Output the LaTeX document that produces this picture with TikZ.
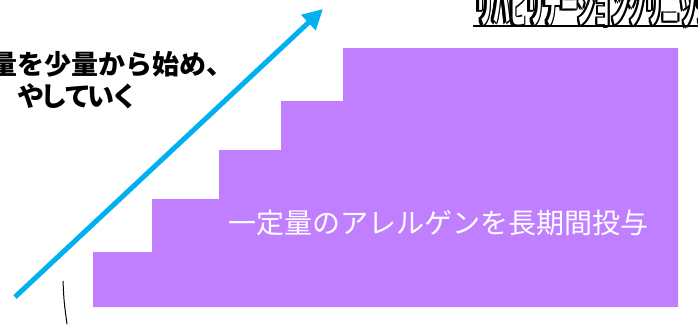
\documentclass[tikz,border=0pt]{standalone}
\usepackage{fontspec}
\newfontfamily\jp{Noto Sans CJK JP}
\usetikzlibrary{arrows.meta,positioning}
\definecolor{stairpurple}{RGB}{191,127,255}
\definecolor{arrowcyan}{RGB}{0,176,240}
\newcommand{\tk}{\kern-3.5pt}
\tikzstyle{note} = [font=\jp\bfseries\fontsize{27}{27}\selectfont, inner sep=0pt, anchor=west]
\tikzstyle{inside} = [font=\jp\fontsize{28}{28}\selectfont, text=white, inner sep=0pt]
\tikzstyle{brand} = [font=\jp\bfseries\fontsize{46}{46}\selectfont, inner sep=0pt, anchor=base west, xscale=0.37]
\tikzstyle{line} = [draw=arrowcyan, line width=5pt, -{Triangle[length=20pt,width=20pt]}]

\begin{document}
\begin{tikzpicture}[x=1pt, y=-1pt]
		\useasboundingbox (0,0) rectangle (698,324);
		\clip (0,0) rectangle (698,324);
		% staircase
		\fill[stairpurple] (93,307) -- (93,252) -- (152,252) -- (152,199) -- (219,199) -- (219,150)
			-- (281,150) -- (281,101) -- (343,101) -- (343,48) -- (678,48) -- (678,307) -- cycle;
		\node[inside] (dose) at (438,223) {一定量のアレルゲンを長期間投与};
		
		\node[note] (l1) at (-10,64) {量を少量から始め、};
		\node[note] (l2) at (17,96) {や\tk し\tk て\tk い\tk く};
		
		\coordinate (tail) at (15,297);
		\coordinate (tip) at (323,9);
		\path[line] (tail) -- (tip);
		
		\coordinate (m1) at (63,281);
		\coordinate (m2) at (67,324);
		\draw[line width=1pt] (m1) .. controls (64,302) .. (m2);
		
		% clipped title, shadowed
		\foreach \dx/\dy [count=\i] in {-2.5/2, -2.5/0, 0/2, 1.2/0, -1.2/-1, 1.2/1.2, -2.5/-1}
			\node[brand, text=black] (ttlb\i) at (476+\dx,22+\dy) {リハビリテーションクリニック};
		\node[brand, text=white] (ttl) at (476,22) {リハビリテーションクリニック};
		\draw[line width=2pt] (ttl.base west) ++(-3,4) -- ++(230,0);
	\end{tikzpicture}
\end{document}
